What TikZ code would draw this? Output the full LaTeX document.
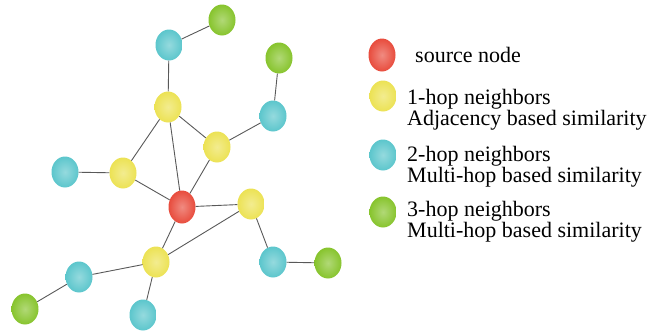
\documentclass[tikz,border=0pt]{standalone}
\usepackage{fontspec}
\setmainfont{Liberation Serif}
\newfontfamily\legfont{Liberation Serif}
\usetikzlibrary{shapes,positioning}
\usepackage{xcolor}

\definecolor{srcred}{RGB}{232,76,61}
\definecolor{hopone}{RGB}{236,226,84}
\definecolor{hoptwo}{RGB}{92,198,204}
\definecolor{hopthree}{RGB}{135,196,45}

\begin{document}
\begin{tikzpicture}[
        x=1pt, y=-1pt,
        every node/.style={font=\legfont\fontsize{22}{21.5}\selectfont},
        ball/.style={ellipse, minimum width=27pt, minimum height=31pt, inner sep=0pt, inner color=#1!65!white, outer color=#1},
        link/.style={draw=black!65, line width=0.9pt},
        legtext/.style={anchor=north west, inner sep=0pt, align=left}
    ]
        \path[use as bounding box] (0,0) rectangle (648,333);

        % Source and 1-hop neighbors
        \node[ball=srcred, minimum height=33pt] (src) at (182,207) {};
        \node[ball=hopone] (a1) at (168,107) {};
        \node[ball=hopone] (a2) at (217,147) {};
        \node[ball=hopone] (a3) at (123,173) {};
        \node[ball=hopone] (a4) at (251,204) {};
        \node[ball=hopone] (a5) at (156,262) {};

        % 2-hop neighbors
        \node[ball=hoptwo] (b1) at (169,45) {};
        \node[ball=hoptwo] (b2) at (273,116) {};
        \node[ball=hoptwo] (b3) at (65,172) {};
        \node[ball=hoptwo] (b4) at (273,262) {};
        \node[ball=hoptwo] (b5) at (79,277) {};
        \node[ball=hoptwo] (b6) at (143,315) {};

        % 3-hop neighbors
        \node[ball=hopthree] (c1) at (222,20) {};
        \node[ball=hopthree] (c2) at (279,58) {};
        \node[ball=hopthree] (c3) at (328,263) {};
        \node[ball=hopthree] (c4) at (25,309) {};

        % Links
        \draw[link] (src) -- (a1);
        \draw[link] (src) -- (a2);
        \draw[link] (src) -- (a3);
        \draw[link] (src) -- (a4);
        \draw[link] (src) -- (a5);
        \draw[link] (a1) -- (a2);
        \draw[link] (a1) -- (a3);
        \draw[link] (a4) -- (a5);
        \draw[link] (a1) -- (b1);
        \draw[link] (a2) -- (b2);
        \draw[link] (a3) -- (b3);
        \draw[link] (a4) -- (b4);
        \draw[link] (a5) -- (b5);
        \draw[link] (a5) -- (b6);
        \draw[link] (b1) -- (c1);
        \draw[link] (b2) -- (c2);
        \draw[link] (b4) -- (c3);
        \draw[link] (b5) -- (c4);

        % Legend
        \node[ball=srcred, minimum height=33pt] (lsrc) at (382,55) {};
        \node[ball=hopone] (lone) at (383,96) {};
        \node[ball=hoptwo] (ltwo) at (383,155) {};
        \node[ball=hopthree] (lthree) at (383,212) {};
        \node[legtext] (tsrc) at (415,47) {source node};
        \node[legtext] (tone) at (407,89) {1-hop neighbors\\Adjacency based similarity};
        \node[legtext] (ttwo) at (407,146) {2-hop neighbors\\Multi-hop based similarity};
        \node[legtext] (tthree) at (407,201) {3-hop neighbors\\Multi-hop based similarity};
    \end{tikzpicture}
\end{document}
